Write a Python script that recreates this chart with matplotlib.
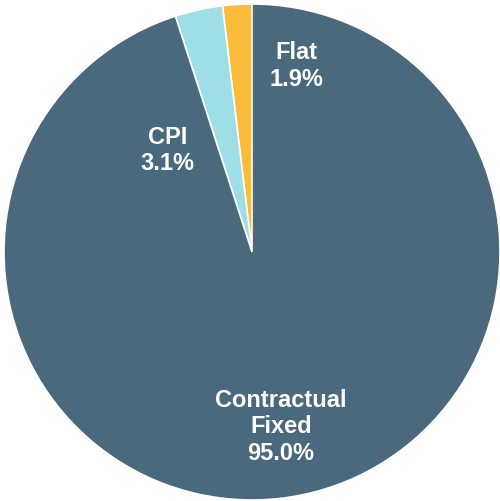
import matplotlib
matplotlib.use("Agg")
import matplotlib.pyplot as plt

# slice data, counter-clockwise from 12 o'clock
labels = ["Flat", "CPI", "Contractual\nFixed"]
shares = [1.9, 3.1, 95.0]
colours = ["#FBBC3C", "#9DDFE5", "#4A697D"]

# label anchor points (in pie radius units)
label_xy = [(0.18, 0.75), (-0.34, 0.41), (0.117, -0.705)]

plt.rcParams["font.family"] = ["Liberation Sans", "DejaVu Sans"]

fig = plt.figure(figsize=(5.0, 5.01), dpi=100)
ax = fig.add_axes([0, 0, 1, 1])

R = 248.0
ax.pie(shares, colors=colours, startangle=90, counterclock=True,
       radius=1.0, center=(0, 0),
       wedgeprops={"edgecolor": "white", "linewidth": 1.2})

for lab, val, (x, y) in zip(labels, shares, label_xy):
    ax.text(x, y, f"{lab}\n{val:.1f}%", ha="center", va="center",
            color="white", fontsize=17, fontweight="bold", linespacing=1.2)

ax.set_xlim(-252 / R, 248 / R)
ax.set_ylim(-249 / R, 252 / R)
ax.set_aspect("auto")
ax.axis("off")

fig.savefig("out.png", dpi=100, facecolor="white")
